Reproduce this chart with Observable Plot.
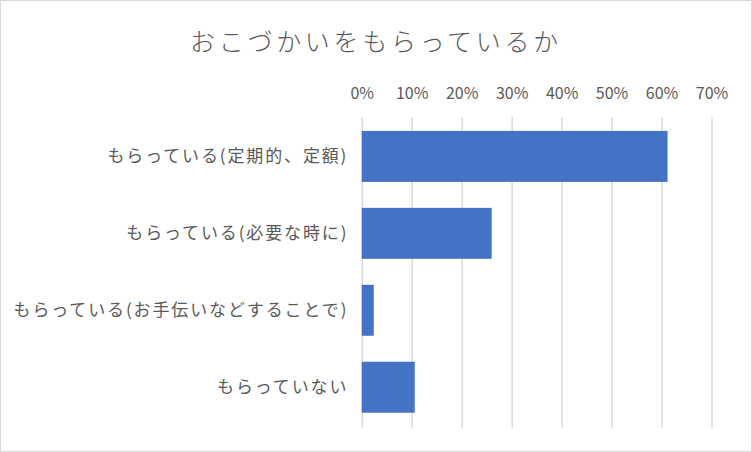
<!DOCTYPE html>
<html>
<head>
<meta charset="utf-8">
<script src="https://cdn.jsdelivr.net/npm/d3@7"></script>
<script src="https://cdn.jsdelivr.net/npm/@observablehq/plot@0.6"></script>
<style>
  html, body { margin: 0; padding: 0; background: #fff; }
  #wrap { position: relative; width: 752px; height: 452px; box-sizing: border-box; border: 1.5px solid #d9d9d9; overflow: hidden; }
  #title { position: absolute; left: 0; width: 100%; top: 21px; text-align: center;
    font-family: "Noto Sans CJK JP", sans-serif; font-weight: 300; font-size: 25px; letter-spacing: 3.7px; color: #595959; }
  #chart { position: absolute; left: -1.5px; top: -1.5px; }
  #chart svg g[aria-label="y-axis tick label"] text { letter-spacing: 1.9px; }
</style>
</head>
<body>
<div id="wrap"><div id="title">おこづかいをもらっているか</div><div id="chart"></div></div>
<script>
const categories = ["もらっている(定期的、定額)", "もらっている(必要な時に)", "もらっている(お手伝いなどすることで)", "もらっていない"];
const values = [0.612, 0.260, 0.024, 0.106];
const xTicks = [0, 0.1, 0.2, 0.3, 0.4, 0.5, 0.6, 0.7];

const data = categories.map((c, i) => ({category: c, value: values[i]}));

const chart = Plot.plot({
  width: 752,
  height: 452,
  marginLeft: 362,
  marginRight: 40,
  marginTop: 117,
  marginBottom: 24,
  style: {fontFamily: "'Noto Sans CJK JP', sans-serif", color: "#595959", background: "transparent"},
  x: {domain: [0, 0.7], ticks: xTicks, tickFormat: d => Math.round(d * 100) + "%"},
  y: {domain: categories, paddingInner: 0.333, paddingOuter: 0.1667},
  marks: [
    Plot.gridX(xTicks, {stroke: "#d9d9d9", strokeOpacity: 1, strokeWidth: 1.5}),
    Plot.barX(data, {x: "value", y: "category", fill: "#4472c4"}),
    Plot.axisX(xTicks, {anchor: "top", tickSize: 0, tickPadding: 18, fontSize: 16, fill: "#595959",
      tickFormat: d => Math.round(d * 100) + "%", label: null}),
    Plot.axisY({anchor: "left", tickSize: 0, tickPadding: 14, fontSize: 17, fill: "#595959", label: null})
  ]
});
document.getElementById("chart").appendChild(chart);
</script>
</body>
</html>
